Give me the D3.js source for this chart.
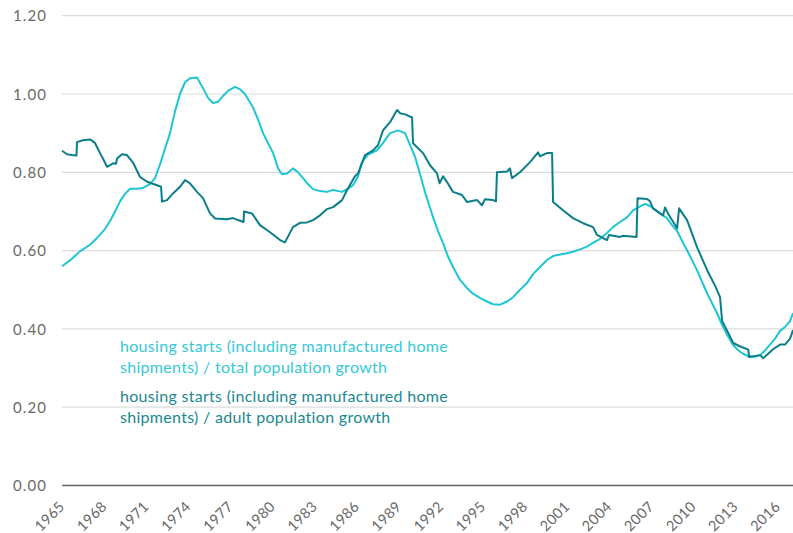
<!DOCTYPE html>
<html><head><meta charset="utf-8">
<script src="https://cdn.jsdelivr.net/npm/d3@7/dist/d3.min.js"></script>
<style>
html,body{margin:0;padding:0;background:#fff;}
svg{display:block;}
text{font-family:Lato,"Open Sans",sans-serif;}
</style></head>
<body>
<svg id="chart" width="793" height="533"></svg>
<script>
// ---- data ----
const yTicks = [0, 0.2, 0.4, 0.6, 0.8, 1.0, 1.2];
const xTickYears = [1965,1968,1971,1974,1977,1980,1983,1986,1989,1992,1995,1998,2001,2004,2007,2010,2013,2016];

const totalYears = [1965.00,1965.57,1966.28,1967.00,1967.49,1968.06,1968.42,1968.78,1969.13,1969.49,1969.85,1970.35,1970.77,1971.27,1971.63,1971.98,1972.34,1972.70,1973.05,1973.41,1973.77,1974.12,1974.62,1975.05,1975.41,1975.76,1976.12,1976.48,1976.83,1977.33,1977.69,1978.04,1978.61,1978.97,1979.33,1979.68,1980.04,1980.40,1980.68,1981.04,1981.46,1981.82,1982.18,1982.53,1982.89,1983.39,1983.89,1984.32,1984.96,1985.39,1985.74,1986.10,1986.38,1986.81,1987.45,1987.88,1988.38,1988.95,1989.45,1989.80,1990.16,1990.52,1990.87,1991.44,1991.80,1992.16,1992.51,1992.87,1993.37,1993.87,1994.29,1994.79,1995.29,1995.72,1996.22,1996.72,1997.15,1997.64,1998.14,1998.57,1999.07,1999.57,2000.00,2000.49,2000.99,2001.42,2001.92,2002.42,2002.85,2003.35,2003.84,2004.27,2004.77,2005.27,2005.70,2006.20,2006.56,2006.91,2007.27,2007.62,2008.12,2008.48,2008.84,2009.19,2009.55,2009.91,2010.26,2010.62,2010.98,2011.34,2011.69,2012.05,2012.41,2012.77,2013.12,2013.48,2013.91,2014.39,2014.76,2015.11,2015.46,2015.82,2016.18,2016.53,2016.89,2017.10];
const totalValues = [0.560,0.575,0.598,0.615,0.632,0.655,0.675,0.700,0.725,0.745,0.758,0.758,0.760,0.770,0.785,0.820,0.860,0.900,0.955,1.000,1.030,1.040,1.042,1.015,0.990,0.977,0.980,0.995,1.008,1.018,1.012,1.000,0.966,0.935,0.900,0.875,0.850,0.810,0.795,0.797,0.810,0.800,0.785,0.770,0.757,0.752,0.750,0.755,0.750,0.758,0.767,0.790,0.826,0.845,0.856,0.875,0.900,0.907,0.900,0.870,0.840,0.795,0.750,0.686,0.650,0.619,0.585,0.558,0.525,0.504,0.490,0.479,0.470,0.463,0.462,0.470,0.481,0.500,0.517,0.540,0.558,0.576,0.586,0.590,0.593,0.597,0.603,0.610,0.620,0.630,0.645,0.660,0.673,0.685,0.703,0.713,0.719,0.714,0.705,0.695,0.683,0.665,0.650,0.625,0.601,0.575,0.550,0.520,0.491,0.465,0.440,0.410,0.385,0.362,0.348,0.338,0.330,0.329,0.333,0.345,0.360,0.375,0.395,0.405,0.420,0.440];

const adultYears = [1965.00,1965.36,1965.71,1966.03,1966.07,1966.50,1967.00,1967.35,1967.71,1967.99,1968.21,1968.64,1968.85,1968.92,1969.28,1969.63,1970.06,1970.56,1971.06,1971.77,1972.06,1972.13,1972.48,1972.91,1973.41,1973.77,1974.12,1974.62,1975.05,1975.55,1975.91,1976.76,1977.19,1977.54,1977.94,1977.97,1978.54,1979.11,1979.83,1980.54,1980.89,1981.46,1981.96,1982.46,1982.89,1983.39,1983.89,1984.32,1984.96,1985.31,1985.88,1986.10,1986.60,1987.17,1987.52,1987.88,1988.38,1988.88,1989.09,1989.45,1989.95,1990.02,1990.73,1991.23,1991.73,1991.91,1992.16,1992.44,1992.87,1993.51,1993.87,1994.58,1994.93,1995.15,1995.72,1995.93,1996.00,1996.72,1996.93,1997.07,1997.64,1998.36,1998.93,1999.07,1999.57,1999.93,2000.00,2000.71,2001.42,2002.14,2002.85,2003.13,2003.84,2003.99,2004.77,2004.98,2005.95,2006.02,2006.70,2006.91,2007.12,2007.84,2007.98,2008.19,2008.84,2008.98,2009.55,2010.26,2010.98,2011.55,2011.90,2012.05,2012.41,2012.84,2013.34,2013.91,2013.98,2014.76,2014.97,2015.68,2016.18,2016.53,2016.89,2017.10];
const adultValues = [0.855,0.846,0.844,0.843,0.877,0.882,0.884,0.875,0.849,0.830,0.814,0.823,0.822,0.835,0.846,0.844,0.825,0.788,0.776,0.767,0.763,0.725,0.729,0.746,0.763,0.780,0.772,0.750,0.734,0.695,0.682,0.680,0.683,0.678,0.673,0.700,0.695,0.665,0.647,0.627,0.621,0.660,0.671,0.672,0.678,0.690,0.706,0.711,0.729,0.754,0.790,0.797,0.844,0.856,0.869,0.907,0.928,0.959,0.951,0.948,0.940,0.874,0.849,0.818,0.797,0.772,0.790,0.775,0.750,0.742,0.724,0.729,0.716,0.731,0.729,0.726,0.800,0.802,0.810,0.785,0.800,0.826,0.851,0.841,0.849,0.849,0.724,0.703,0.683,0.670,0.660,0.640,0.627,0.640,0.635,0.638,0.635,0.734,0.732,0.726,0.708,0.690,0.710,0.695,0.657,0.708,0.678,0.609,0.550,0.510,0.481,0.420,0.395,0.364,0.355,0.347,0.328,0.333,0.325,0.348,0.360,0.360,0.375,0.397];

const legendTotal = ["housing starts (including manufactured home", "shipments) / total population growth"];
const legendAdult = ["housing starts (including manufactured home", "shipments) / adult population growth"];

// ---- chart ----
const svg = d3.select("#chart");
const x = d3.scaleLinear().domain([1965, 2017.1]).range([62, 793]);
const y = d3.scaleLinear().domain([0, 1.2]).range([485.5, 15.7]);

const colTotal = "#1ec6d3", colAdult = "#0b7e88";

// gridlines
svg.append("g").selectAll("line").data(yTicks.filter(d => d > 0)).join("line")
  .attr("x1", 62).attr("x2", 793)
  .attr("y1", d => y(d)).attr("y2", d => y(d))
  .attr("stroke", "#dcdcdc").attr("stroke-width", 1.2);

// y labels
const yAxis = d3.axisLeft(y).tickValues(yTicks).tickFormat(d3.format(".2f")).tickSize(0).tickPadding(0);
const gy = svg.append("g").attr("transform", "translate(47,0)").call(yAxis);
gy.select(".domain").remove();
gy.selectAll("text").attr("fill", "#6a6a6a").attr("font-size", 15).attr("letter-spacing", 1.1)
  .attr("font-family", "Lato, sans-serif").attr("dy", "0.35em");

// x axis
const xAxis = d3.axisBottom(x).tickValues(xTickYears).tickFormat(d3.format("d")).tickSize(0).tickPadding(0);
const gx = svg.append("g").attr("transform", `translate(0,${y(0)})`).call(xAxis);
gx.select(".domain").remove();
gx.selectAll("text")
  .attr("fill", "#6a6a6a").attr("font-size", 14.5).attr("letter-spacing", 0.3)
  .attr("font-family", "Lato, sans-serif")
  .attr("text-anchor", "end")
  .attr("dy", 0).attr("y", 0)
  .attr("transform", "translate(3,22) rotate(-45)");

svg.append("line").attr("x1", 62).attr("x2", 793).attr("y1", y(0)).attr("y2", y(0))
  .attr("stroke", "#666").attr("stroke-width", 1.6);

// lines
const line = d3.line().x(d => x(d[0])).y(d => y(d[1]));
svg.append("path").datum(d3.zip(totalYears, totalValues))
  .attr("d", line).attr("fill", "none").attr("stroke", colTotal).attr("stroke-width", 2).attr("stroke-linejoin", "round");
svg.append("path").datum(d3.zip(adultYears, adultValues))
  .attr("d", line).attr("fill", "none").attr("stroke", colAdult).attr("stroke-width", 2).attr("stroke-linejoin", "round");

// legend
const lg = svg.append("g").attr("font-family", "Lato, sans-serif").attr("font-size", 16).attr("letter-spacing", 0.3);
lg.selectAll("text.t").data(legendTotal).join("text").attr("class","t")
  .attr("x", 120).attr("y", (d,i) => 352 + i*21).attr("fill", "#36c9d5").text(d => d);
lg.selectAll("text.a").data(legendAdult).join("text").attr("class","a")
  .attr("x", 120).attr("y", (d,i) => 402 + i*21).attr("fill", "#1a8891").text(d => d);
</script>
</body></html>
